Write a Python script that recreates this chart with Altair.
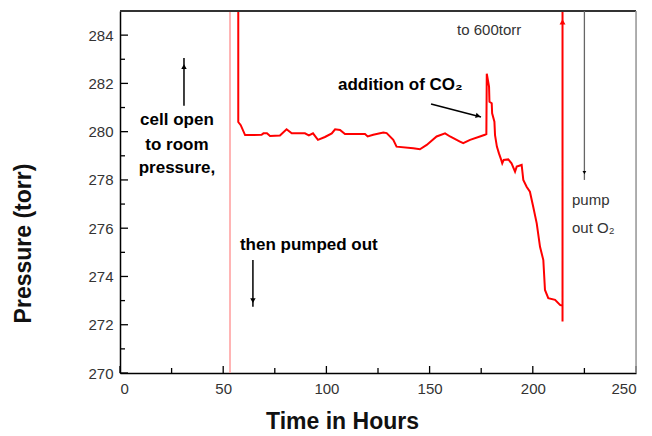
import altair as alt
import pandas as pd

# ---- data ----
hours = [57.3, 57.3, 58.5, 60.6, 68.6, 69.5, 71.2, 72.7, 77.5, 80.7, 83.2, 89.6, 91.5, 93.5,
         95.9, 99.3, 102.6, 104.2, 106.6, 109.0, 118.7, 120.0, 122.7, 127.6, 129.2, 132.4,
         134.0, 142.1, 145.3, 148.6, 153.4, 157.5, 159.9, 164.7, 166.3, 169.6, 174.4, 176.8,
         177.5, 177.7, 178.8, 179.0, 180.1, 180.3, 181.4, 181.7, 182.6, 183.6, 184.7, 185.2,
         185.9, 188.1, 189.7, 191.4, 192.2, 194.6, 195.4, 197.0, 198.6, 200.2, 201.9, 203.5,
         205.1, 205.9, 207.5, 210.8, 213.2, 214.4, 214.4, 214.4]
pressure = [300.0, 280.4, 280.27, 279.86, 279.87, 279.93, 279.93, 279.82, 279.84, 280.1, 279.93,
            279.93, 279.85, 279.93, 279.66, 279.78, 279.93, 280.1, 280.07, 279.9, 279.9, 279.8,
            279.87, 279.96, 279.94, 279.66, 279.38, 279.31, 279.27, 279.45, 279.8, 279.93, 279.8,
            279.59, 279.52, 279.66, 279.8, 279.87, 279.9, 282.4, 281.87, 281.24, 281.18, 280.76,
            280.41, 279.86, 279.38, 279.1, 278.83, 278.69, 278.83, 278.85, 278.69, 278.34,
            278.55, 278.62, 278.0, 277.72, 277.51, 276.89, 276.2, 275.23, 274.68, 273.44, 273.1,
            273.03, 272.82, 272.78, 272.13, 600.0]

cell_open_hour = [53.3]

x_major = [0, 50, 100, 150, 200, 250]
x_minor = [25, 75, 125, 175, 225]
y_major = [270, 272, 274, 276, 278, 280, 282, 284]
y_minor = [271, 273, 275, 277, 279, 281, 283]

# annotation texts (hour, pressure, text)
bold_text_h = [27.6, 27.6, 27.6]
bold_text_p = [280.48, 279.45, 278.5]
bold_text = ["cell open", "to room", "pressure,"]

left_text_h = [58.1, 105.6]
left_text_p = [275.3, 281.94]
left_text = ["then pumped out", "addition of CO\u2082"]

grey_text_h = [163.3, 219.0, 219.0]
grey_text_p = [284.21, 277.17, 276.01]
grey_text = ["to 600torr", "pump", "out O\u2082"]

# annotation arrows (x, y, x2, y2) in data units
arrow_h1 = [31.0, 64.4, 150.7]
arrow_p1 = [281.07, 274.68, 281.15]
arrow_h2 = [31.0, 64.4, 174.9]
arrow_p2 = [283.05, 272.74, 280.61]
head_h = [31.0, 64.4, 173.5]
head_p = [282.7, 273.0, 280.65]
head_shape = ["triangle-up", "triangle-down", "triangle-right"]
head_angle = [0, 0, 15]

pump_h = [225.0]
pump_p1 = [285.0]
pump_p2 = [278.0]

W, H = 516, 362
FONT = "Liberation Sans, Arial, sans-serif"

xs = alt.Scale(domain=[0, 250], nice=False, zero=False)
ys = alt.Scale(domain=[270, 285], nice=False, zero=False)

xaxis = alt.Axis(values=x_major, ticks=False, grid=False, domainColor="black", domainWidth=1.5,
                 labelFont=FONT, labelFontSize=15, labelColor="#333", labelPadding=8,
                 titleFont=FONT, titleFontSize=23, titleFontWeight="bold", titleColor="#111",
                 titleX=222, titleY=48, titleBaseline="middle", titleAlign="center")
yaxis = alt.Axis(values=y_major, ticks=False, grid=False, domainColor="black", domainWidth=1.5,
                 labelFont=FONT, labelFontSize=15, labelColor="#333", labelPadding=7,
                 titleFont=FONT, titleFontSize=23, titleFontWeight="bold", titleColor="#111",
                 titleX=-97, titleY=232, titleBaseline="middle", titleAlign="center", titleAngle=270)


def X(f):
    return alt.X(f, scale=xs, axis=xaxis, title="Time in Hours")


def Y(f):
    return alt.Y(f, scale=ys, axis=yaxis, title="Pressure (torr)")


df = pd.DataFrame({"h": hours, "p": pressure, "i": list(range(len(hours)))})

line = alt.Chart(df).mark_line(color="#ff0000", strokeWidth=2, clip=True).encode(
    x=X("h:Q"), y=Y("p:Q"), order="i:Q")

pink = alt.Chart(pd.DataFrame({"h": cell_open_hour})).mark_rule(color="#ff9c9c", strokeWidth=1.5).encode(
    x=X("h:Q"))

red_head = alt.Chart(pd.DataFrame({"h": [214.4], "p": [284.55]})).mark_point(
    shape="triangle-up", filled=True, color="#ff0000", size=35, opacity=1).encode(
    x=X("h:Q"), y=Y("p:Q"))


def tick_layer(vals, length, horizontal):
    d = pd.DataFrame({"h": vals, "p": vals})
    if horizontal:
        return alt.Chart(d).mark_rule(color="black", strokeWidth=1.3).encode(
            y=Y("p:Q"), x=alt.value(0), x2=alt.value(length))
    return alt.Chart(d).mark_rule(color="black", strokeWidth=1.3).encode(
        x=X("h:Q"), y=alt.value(H), y2=alt.value(H - length))


ticks = [tick_layer(y_major, 8, True), tick_layer(y_minor, 5, True),
         tick_layer(x_major, 7, False), tick_layer(x_minor, 5, False)]

top_border = alt.Chart(pd.DataFrame({"a": [0]})).mark_rule(color="#333", strokeWidth=2).encode(
    x=alt.value(0), x2=alt.value(W), y=alt.value(0))
right_border = alt.Chart(pd.DataFrame({"a": [0]})).mark_rule(color="#999", strokeWidth=1.5).encode(
    x=alt.value(W), y=alt.value(0), y2=alt.value(H))

arrows = alt.Chart(pd.DataFrame({"h": arrow_h1, "p": arrow_p1, "h2": arrow_h2, "p2": arrow_p2})).mark_rule(
    color="black", strokeWidth=1.5).encode(x=X("h:Q"), y=Y("p:Q"), x2="h2:Q", y2="p2:Q")

heads = [
    alt.Chart(pd.DataFrame({"h": [head_h[k]], "p": [head_p[k]]})).mark_point(
        shape=head_shape[k], angle=head_angle[k], filled=True, color="black", size=30, opacity=1).encode(
        x=X("h:Q"), y=Y("p:Q"))
    for k in range(3)
]

pump_line = alt.Chart(pd.DataFrame({"h": pump_h, "p": pump_p1, "p2": pump_p2})).mark_rule(
    color="#666", strokeWidth=1.3).encode(x=X("h:Q"), y=Y("p:Q"), y2="p2:Q")
pump_head = alt.Chart(pd.DataFrame({"h": pump_h, "p": [278.3]})).mark_point(
    shape="triangle-down", filled=True, color="black", size=14, opacity=1).encode(
    x=X("h:Q"), y=Y("p:Q"))

bold_center = alt.Chart(pd.DataFrame({"h": bold_text_h, "p": bold_text_p, "t": bold_text})).mark_text(
    font=FONT, fontSize=17, fontWeight="bold", color="black", align="center", baseline="middle").encode(
    x=X("h:Q"), y=Y("p:Q"), text="t:N")

bold_left = alt.Chart(pd.DataFrame({"h": left_text_h, "p": left_text_p, "t": left_text})).mark_text(
    font=FONT, fontSize=17, fontWeight="bold", color="black", align="left", baseline="middle").encode(
    x=X("h:Q"), y=Y("p:Q"), text="t:N")

grey_left = alt.Chart(pd.DataFrame({"h": grey_text_h, "p": grey_text_p, "t": grey_text})).mark_text(
    font=FONT, fontSize=15, color="#333", align="left", baseline="middle").encode(
    x=X("h:Q"), y=Y("p:Q"), text="t:N")

chart = alt.layer(
    line, pink, *ticks, top_border, right_border, arrows, *heads, pump_line, pump_head,
    red_head, bold_center, bold_left, grey_left
).properties(
    width=W, height=H,
    autosize=alt.AutoSizeParams(type="none"),
    padding={"left": 112, "top": 3, "right": 8, "bottom": 62},
).configure_view(stroke=None).configure(background="white")

chart.save("out.html", embed_options={"renderer": "svg", "actions": False})
